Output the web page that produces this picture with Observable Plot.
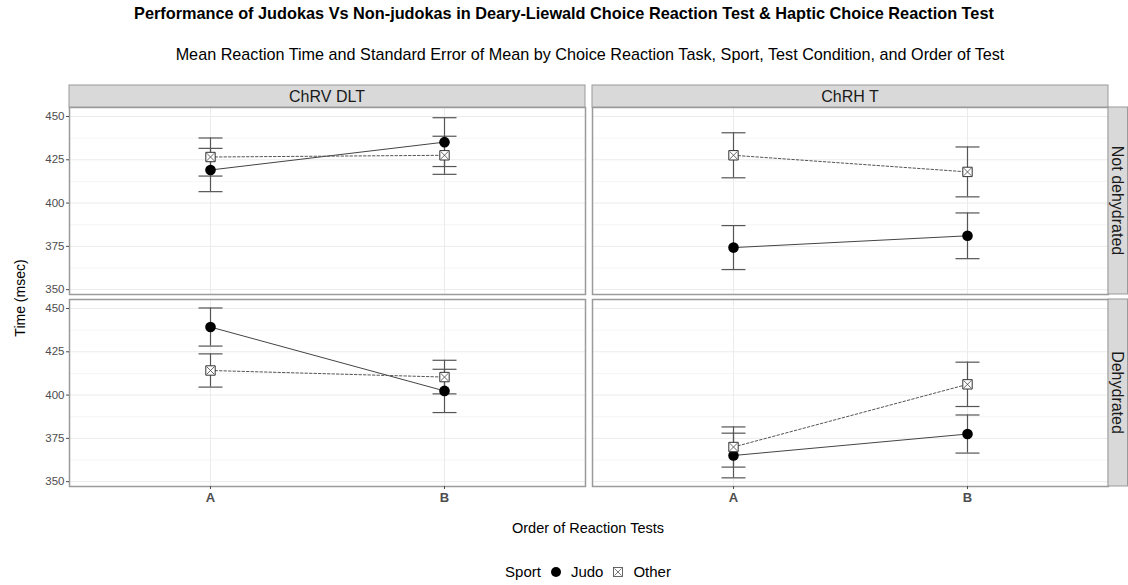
<!DOCTYPE html>
<html><head><meta charset="utf-8">
<script src="https://cdn.jsdelivr.net/npm/d3@7"></script>
<script src="https://cdn.jsdelivr.net/npm/@observablehq/plot@0.6"></script>
<style>
body{margin:0;background:#fff;font-family:"Liberation Sans",Arial,sans-serif;}
#wrap{position:relative;width:1128px;height:585px;overflow:hidden;background:#fff;}
#title{position:absolute;top:4px;left:0;width:1128px;text-align:center;font-weight:bold;font-size:16.3px;color:#000;}
#subtitle{position:absolute;top:45px;left:52px;width:1076px;text-align:center;font-size:16.2px;color:#000;}
#chart{position:absolute;top:80px;left:0;}
#xlabel{position:absolute;top:520px;left:68px;width:1040px;text-align:center;font-size:14.5px;color:#000;}
#ylabel{position:absolute;left:20px;top:298px;transform:translate(-50%,-50%) rotate(-90deg);font-size:14px;white-space:nowrap;color:#000;}
#legend{position:absolute;top:563px;left:68px;width:1040px;display:flex;justify-content:center;align-items:center;font-size:15px;color:#000;}
#legend span{margin:0 5px;}
#legend svg{margin:0 4px;}
</style></head>
<body><div id="wrap">
<div id="title">Performance of Judokas Vs Non-judokas in Deary-Liewald Choice Reaction Test &amp; Haptic Choice Reaction Test</div>
<div id="subtitle">Mean Reaction Time and Standard Error of Mean by Choice Reaction Task, Sport, Test Condition, and Order of Test</div>
<div id="chart"></div>
<div id="ylabel">Time (msec)</div>
<div id="xlabel">Order of Reaction Tests</div>
<div id="legend">
  <span>Sport</span>
  <svg width="12" height="12" viewBox="-6 -6 12 12"><circle r="5" fill="#000"/></svg>
  <span>Judo</span>
  <svg width="12" height="12" viewBox="-6 -6 12 12"><rect x="-4.5" y="-4.5" width="9" height="9" fill="none" stroke="#555" stroke-width="0.9"/><path d="M-3.5,-3.5L3.5,3.5M-3.5,3.5L3.5,-3.5" stroke="#555" stroke-width="0.8"/></svg>
  <span>Other</span>
</div>
</div>
<script>
// ---- data ----
const tasks = ["ChRV DLT", "ChRH T"];
const conditions = ["Not dehydrated", "Dehydrated"];
const orders = ["A", "B"];
const sports = ["Judo", "Other"];
// order of values: for condition, for task, for order
const judoMean = [419.1, 435.2, 374.3, 381.1, 439.3, 402.4, 365.1, 377.5];
const judoSE   = [12.5, 14.1, 12.7, 13.2, 11.0, 12.5, 12.9, 11.0];
const otherMean = [426.6, 427.6, 427.6, 418.0, 414.2, 410.4, 370.0, 406.2];
const otherSE   = [11.0, 11.0, 13.0, 14.4, 9.6, 9.7, 11.6, 12.8];
const yTicks = [350, 375, 400, 425, 450];
const yMinor = [362.5, 387.5, 412.5, 437.5];

const rows = [];
let i = 0;
for (const c of conditions) for (const t of tasks) for (const o of orders) {
  rows.push({task: t, condition: c, order: o, sport: sports[0], mean: judoMean[i], se: judoSE[i]});
  rows.push({task: t, condition: c, order: o, sport: sports[1], mean: otherMean[i], se: otherSE[i]});
  i++;
}
const judo = rows.filter(d => d.sport === "Judo");
const other = rows.filter(d => d.sport === "Other");

const capSymbol = {draw(ctx, size) { const h = Math.sqrt(size / Math.PI); ctx.moveTo(-h, 0); ctx.lineTo(h, 0); }};
const fc = {fx: "task", fy: "condition", x: "order"};

const plot = Plot.plot({
  width: 1128, height: 440,
  marginTop: 27, marginBottom: 33, marginLeft: 68, marginRight: 20,
  style: {fontFamily: "Liberation Sans, Arial, sans-serif", fontSize: "11.5px", color: "#4d4d4d", background: "white", overflow: "visible"},
  fx: {domain: tasks, paddingInner: 0.0134, paddingOuter: 0, axis: null},
  fy: {domain: conditions, paddingInner: 0.0235, paddingOuter: 0, axis: null},
  x: {type: "point", domain: orders, padding: 0.6, label: null},
  y: {domain: [347.2, 455.2], label: null},
  marks: [
    Plot.gridY(yMinor, {stroke: "#f2f2f2", strokeOpacity: 1, strokeWidth: 0.8}),
    Plot.gridY(yTicks, {stroke: "#ebebeb", strokeOpacity: 1, strokeWidth: 1}),
    Plot.gridX(orders, {stroke: "#ebebeb", strokeOpacity: 1, strokeWidth: 1}),
    Plot.frame({stroke: "#9a9a9a", strokeWidth: 1.5}),
    Plot.axisY(yTicks, {tickSize: 3, tickPadding: 2, fontSize: 11.5, stroke: "#4d4d4d", fill: "#4d4d4d"}),
    Plot.axisX({tickSize: 3, tickPadding: 3, fontSize: 13, fontWeight: "bold", stroke: "#4d4d4d", fill: "#4d4d4d"}),
    Plot.ruleX(rows, {...fc, y1: d => d.mean - d.se, y2: d => d.mean + d.se, stroke: "#555", strokeWidth: 1.2}),
    Plot.dot(rows, {...fc, y: d => d.mean - d.se, symbol: capSymbol, r: 12, stroke: "#555", strokeWidth: 1.2, fill: "none"}),
    Plot.dot(rows, {...fc, y: d => d.mean + d.se, symbol: capSymbol, r: 12, stroke: "#555", strokeWidth: 1.2, fill: "none"}),
    Plot.line(judo, {...fc, y: "mean", stroke: "#444", strokeWidth: 1}),
    Plot.line(other, {...fc, y: "mean", stroke: "#555", strokeWidth: 1, strokeDasharray: "2.5,2"}),
    Plot.dot(judo, {...fc, y: "mean", r: 5.3, fill: "#000", stroke: "none"}),
    Plot.dot(other, {...fc, y: "mean", symbol: "square", r: 5.3, fill: "white", stroke: "#333", strokeWidth: 1}),
    Plot.dot(other, {...fc, y: "mean", symbol: "times", r: 3.6, fill: "none", stroke: "#444", strokeWidth: 0.8})
  ]
});
document.getElementById("chart").appendChild(plot);

// strips (facet labels) built from Plot's facet scales
const fxS = plot.scale("fx"), fyS = plot.scale("fy");
const svg = d3.select(plot);
const W = 1128, MR = 20, MT = 27;
const g = svg.append("g").attr("class", "strips");
for (const t of tasks) {
  const x0 = fxS.apply(t), bw = fxS.bandwidth;
  g.append("rect").attr("x", x0).attr("y", MT - 22).attr("width", bw).attr("height", 22)
    .attr("fill", "#d9d9d9").attr("stroke", "#9a9a9a").attr("stroke-width", 1);
  g.append("text").attr("x", x0 + bw / 2).attr("y", MT - 11).attr("dy", "0.36em")
    .attr("text-anchor", "middle").attr("font-size", 16).attr("fill", "#1a1a1a").text(t);
}
for (const c of conditions) {
  const y0 = fyS.apply(c), bh = fyS.bandwidth;
  const xs = W - MR;
  g.append("rect").attr("x", xs).attr("y", y0).attr("width", MR - 0.5).attr("height", bh)
    .attr("fill", "#d9d9d9").attr("stroke", "#9a9a9a").attr("stroke-width", 1);
  g.append("text").attr("transform", `translate(${xs + MR / 2},${y0 + bh / 2}) rotate(90)`)
    .attr("dy", "0.36em").attr("text-anchor", "middle").attr("font-size", 16).attr("fill", "#1a1a1a").text(c);
}
</script>
</body></html>
